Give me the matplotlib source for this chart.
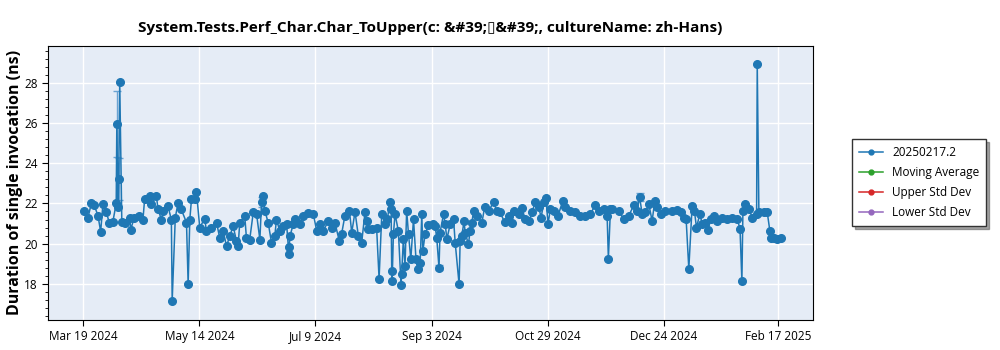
import numpy as np
import pandas as pd
import matplotlib
matplotlib.use("Agg")
import matplotlib.pyplot as plt
from matplotlib.lines import Line2D
from matplotlib.ticker import MultipleLocator

plt.rcParams['font.family'] = ['Open Sans', 'DejaVu Sans']

title = "System.Tests.Perf_Char.Char_ToUpper(c: &#39;\u25af&#39;, cultureName: zh-Hans)"
ylabel = "Duration of single invocation (ns)"
series_name = "20250217.2"
legend_names = ["Moving Average", "Upper Std Dev", "Lower Std Dev"]
legend_colors = ["#2ca02c", "#d62728", "#9467bd"]
tick_dates = ["2024-03-19", "2024-05-14", "2024-07-09", "2024-09-03", "2024-10-29", "2024-12-24", "2025-02-17"]
tick_labels = ["Mar 19 2024", "May 14 2024", "Jul 9 2024", "Sep 3 2024", "Oct 29 2024", "Dec 24 2024", "Feb 17 2025"]

base_date = "2024-03-19"
# days after base_date
day_offset = [
    0.5, 2.3, 3.9, 5.3, 7.1, 8.4, 9.5, 11.1, 12.6, 14.3, 15.9, 16.2, 16.7, 17.1, 17.6, 18.6,
    20.0, 22.4, 22.9, 24.6, 27.1, 28.8, 29.6, 32.0, 32.9, 35.3, 36.1, 37.7, 38.5, 40.9,
    42.5, 42.9, 44.4, 45.7, 47.3, 49.8, 50.6, 51.4, 52.2, 53.8, 54.6, 56.2, 58.6, 59.4,
    61.8, 64.3, 65.8, 67.5, 69.1, 70.7, 72.3, 73.9, 74.7, 75.5, 77.9, 78.7, 80.3, 82.0,
    83.6, 85.2, 86.0, 86.8, 87.6, 89.2, 90.8, 92.4, 93.2, 94.8, 96.5, 98.1, 99.2, 99.4,
    99.7, 101.3, 102.1, 104.5, 106.1, 108.6, 111.0, 112.6, 114.2, 115.8, 118.2, 119.8,
    121.4, 123.5, 124.6, 126.2, 128.4, 129.5, 131.1, 132.7, 134.3, 135.9, 136.7, 137.5,
    139.1, 141.5, 142.7, 144.0, 145.6, 146.7, 148.0, 148.5, 148.8, 149.0, 149.6, 150.4,
    152.0, 153.3, 153.6, 154.4, 155.2, 156.0, 156.9, 158.0, 159.3, 160.5, 161.4, 162.5,
    163.3, 163.8, 164.9, 166.5, 168.9, 169.7, 170.5, 171.6, 172.1, 173.8, 174.6, 175.4,
    177.0, 178.6, 179.4, 181.3, 181.8, 182.6, 183.7, 184.2, 185.8, 186.6, 187.4, 188.3,
    189.9, 192.3, 193.6, 195.5, 197.9, 199.5, 201.1, 203.2, 205.2, 206.8, 207.6, 210.0,
    211.6, 213.2, 215.1, 216.4, 218.0, 219.7, 220.9, 222.1, 223.2, 224.2, 225.3, 226.9,
    229.0, 231.3, 232.5, 234.9, 237.3, 239.8, 242.2, 244.6, 247.0, 248.7, 251.1, 252.7,
    253.3, 254.3, 255.1, 258.3, 260.7, 263.1, 265.6, 267.1, 268.4, 269.6, 271.2, 272.8,
    274.4, 275.7, 276.8, 278.7, 280.8, 284.1, 286.5, 288.4, 290.0, 290.8, 292.1, 293.7,
    294.8, 295.8, 297.4, 298.6, 300.1, 301.4, 302.6, 304.2, 305.8, 308.2, 310.6, 313.0,
    315.5, 316.8, 317.7, 318.2, 319.0, 321.1, 322.7, 324.8, 325.1, 325.9, 328.3, 329.9,
    331.2, 331.5, 333.1, 334.7, 336.4,
]
duration_ns = [
    21.63, 21.3, 22.0, 21.9, 21.4, 20.6, 21.97, 21.55, 21.05, 21.1, 22.0, 25.96, 21.8, 23.2, 28.03, 21.1,
    21.05, 21.3, 20.7, 21.3, 21.38, 21.2, 22.2, 22.35, 21.97, 22.35, 21.7, 21.2, 21.6, 21.85,
    21.2, 17.15, 21.3, 22.0, 21.7, 21.05, 18.0, 21.2, 22.2, 22.2, 22.58, 20.8, 21.25, 20.63,
    20.8, 21.05, 20.3, 20.63, 19.88, 20.38, 20.88, 20.13, 19.88, 21.05, 21.38, 20.3, 20.2, 21.55,
    21.47, 20.2, 22.05, 22.38, 21.63, 21.05, 20.05, 20.38, 21.2, 20.63, 20.88, 20.97, 19.47, 19.85,
    20.38, 20.97, 21.25, 20.97, 21.38, 21.52, 21.47, 20.63, 20.97, 20.63, 21.13, 20.8,
    21.05, 20.13, 20.47, 21.38, 21.63, 20.55, 21.58, 20.38, 20.05, 21.55, 21.13, 20.72,
    20.72, 20.8, 18.25, 21.47, 20.97, 21.25, 22.05, 21.72, 18.63, 18.13, 20.47, 21.47,
    20.63, 17.92, 18.47, 20.22, 18.88, 21.63, 20.47, 19.22, 21.22, 19.22, 18.75, 19.02,
    21.47, 19.63, 20.47, 20.92, 20.97, 20.88, 20.3, 18.8, 20.55, 21.47, 20.97, 20.22,
    20.97, 21.25, 20.05, 17.97, 20.13, 20.38, 21.13, 20.55, 19.97, 20.63, 21.02, 21.63,
    21.38, 21.05, 21.8, 21.63, 22.05, 21.63, 21.55, 21.08, 21.38, 21.05, 21.63, 21.47,
    21.75, 21.22, 21.13, 21.55, 22.05, 21.8, 21.3, 22.08, 22.25, 20.97, 21.72, 21.63,
    21.38, 22.13, 21.8, 21.63, 21.55, 21.38, 21.38, 21.47, 21.92, 21.63, 21.72, 21.38,
    19.25, 21.72, 21.72, 21.63, 21.22, 21.38, 21.92, 21.63, 22.3, 21.47, 21.55, 21.97,
    21.13, 22.13, 21.8, 21.47, 21.63, 21.63, 21.68, 21.55, 21.3, 21.22, 18.75, 21.88,
    21.63, 20.8, 21.47, 20.97, 21.05, 20.67, 21.22, 21.38, 21.13, 21.3, 21.22, 21.3,
    21.22, 20.72, 18.12, 21.63, 21.97, 21.72, 21.3, 21.47, 28.95, 21.55, 21.55, 21.58,
    20.63, 20.3, 20.3, 20.22, 20.3,
]
# points with a visible error bar: day offset -> half width (ns)
err_day = [16.2, 17.1, 86.0, 171.6, 268.4]
err_size = [1.65, 1.05, 0.25, 0.12, 0.2]

dates = pd.Timestamp(base_date) + pd.to_timedelta(day_offset, unit="D")
yerr = np.zeros(len(duration_ns))
for d, e in zip(err_day, err_size):
    yerr[day_offset.index(d)] = e

fig = plt.figure(figsize=(10, 3.5), dpi=100)
ax = fig.add_axes([0.048, 0.086, 0.765, 0.783])
ax.set_facecolor("#e5ecf6")

ax.errorbar(dates, duration_ns, yerr=yerr, color="#1f77b4", marker="o", markersize=5.5,
            linewidth=1.1, elinewidth=1.0, capsize=3, ecolor="#6aa3d3", zorder=3)

handles = [Line2D([], [], color="#1f77b4", marker="o", markersize=3.5, linewidth=1.1)]
for c in legend_colors:
    handles.append(Line2D([], [], color=c, marker="o", markersize=3.5, linewidth=1.1))

ax.set_ylim(16.2, 29.85)
ax.set_xlim(pd.Timestamp("2024-03-02"), pd.Timestamp("2025-03-06"))
ax.yaxis.set_major_locator(MultipleLocator(2))
ax.yaxis.set_minor_locator(MultipleLocator(0.4))
ax.set_xticks(pd.to_datetime(tick_dates))
ax.set_xticklabels(tick_labels)
ax.tick_params(axis="both", labelsize=8.5, length=4)
ax.tick_params(axis="y", which="minor", length=2.5)
ax.grid(True, color="white", linewidth=1)
ax.set_axisbelow(True)
for s in ax.spines.values():
    s.set_color("black")

ax.set_title(title, fontsize=11, fontweight="bold", pad=10)
ax.set_ylabel(ylabel, fontsize=11.5, fontweight="bold", labelpad=1)

fig.legend(handles, [series_name] + legend_names, loc="upper left", bbox_to_anchor=(0.846, 0.62),
           fontsize=8.5, fancybox=False, shadow=True, edgecolor="#333333", framealpha=1,
           borderpad=0.6, labelspacing=0.6, handlelength=2.0)

fig.savefig("out.png", dpi=100)
